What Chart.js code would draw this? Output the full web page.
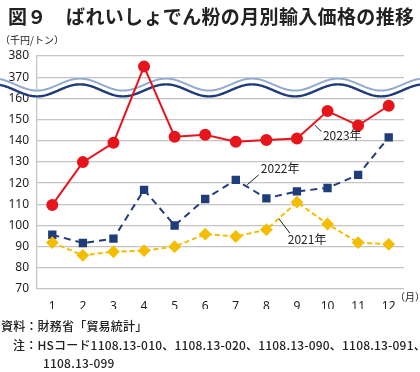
<!DOCTYPE html>
<html>
<head>
<meta charset="utf-8">
<script src="https://cdn.jsdelivr.net/npm/chart.js@4"></script>
<style>
  body { margin: 0; background: #fff; }
  #wrap { position: relative; width: 420px; height: 372px; overflow: hidden; }
  #c { position: absolute; left: 0; top: 0; }
  .t { position: absolute; font-family: "Noto Sans CJK JP", sans-serif; color: #222; white-space: nowrap; }
  #title { left: 8px; top: 2px; font-size: 19px; font-weight: 700; letter-spacing: 0.35px; }
  #unit { left: 0px; top: 32px; font-size: 10px; }
  #month { left: 395px; top: 289px; font-size: 10px; }
  .f { font-size: 12px; font-weight: 500; letter-spacing: 0.2px; }
</style>
</head>
<body>
<div id="wrap">
  <canvas id="c" width="420" height="372"></canvas>
  <div class="t" id="title">図９　ばれいしょでん粉の月別輸入価格の推移</div>
  <div class="t" id="unit">（千円/トン）</div>
  <div class="t" id="month">（月）</div>
  <div class="t f" style="left:1px; top:317px;">資料：財務省「貿易統計」</div>
  <div class="t f" style="left:13px; top:336px;">注：HSコード1108.13-010、1108.13-020、1108.13-090、1108.13-091、</div>
  <div class="t f" style="left:43px; top:354px;">1108.13-099</div>
</div>
<script>
// 月
const months = ['1', '2', '3', '4', '5', '6', '7', '8', '9', '10', '11', '12'];
// 輸入価格（千円/トン）
const y2021 = [91.9, 85.9, 87.6, 88.1, 90.0, 95.9, 94.8, 98.0, 111.0, 100.7, 91.9, 91.1];
const y2022 = [95.6, 91.7, 93.8, 116.8, 100.0, 112.5, 121.5, 112.8, 116.1, 117.7, 123.9, 141.6];
const y2023 = [109.7, 129.9, 139.0, 375.0, 141.9, 142.8, 139.5, 140.3, 141.1, 154.0, 147.2, 156.5];
const yTicks = [70, 80, 90, 100, 110, 120, 130, 140, 150, 160, 370, 380];

// 軸を省略しているので 300 以上は 200 ずらして描く
const toAxis = v => (v > 300 ? v - 200 : v);
const fromAxis = v => (v >= 170 ? v + 200 : v);

const waveBreak = {
    id: 'waveBreak',
    beforeDatasetsDraw(chart) {
        const ctx = chart.ctx;
        const yb = chart.scales.y.getPixelForValue(165);
        const P = 86, A = 6;
        const wave = (off) => {
            ctx.beginPath();
            for (let x = 0; x <= chart.width; x += 1) {
                const y = yb + off - A * Math.cos(2 * Math.PI * (x - 80) / P);
                if (x === 0) ctx.moveTo(x, y); else ctx.lineTo(x, y);
            }
        };
        ctx.save();
        wave(-0.3);
        ctx.strokeStyle = '#ffffff';
        ctx.lineWidth = 8;
        ctx.stroke();
        wave(-3.2);
        ctx.strokeStyle = '#93aad0';
        ctx.lineWidth = 2;
        ctx.stroke();
        wave(2.6);
        ctx.strokeStyle = '#1f3b7a';
        ctx.lineWidth = 2.4;
        ctx.stroke();
        ctx.restore();
    }
};

// 系列名と引き出し線
const seriesLabels = {
    id: 'seriesLabels',
    afterDatasetsDraw(chart) {
        const ctx = chart.ctx;
        const xs = chart.scales.x, ys = chart.scales.y;
        const px = i => xs.getPixelForValue(i);
        const items = [
            { text: '2023年', tx: 8.85, ty: 142.7, x1: 8.58, y1: 147.4, x2: 8.8, y2: 144.3 },
            { text: '2022年', tx: 6.82, ty: 126.8, x1: 6.75, y1: 123.9, x2: 6.37, y2: 119.2 },
            { text: '2021年', tx: 7.7, ty: 93.6, x1: 7.41, y1: 103.2, x2: 7.77, y2: 96.3 }
        ];
        ctx.save();
        ctx.fillStyle = '#222';
        ctx.strokeStyle = '#222';
        ctx.lineWidth = 1;
        ctx.font = '12px "Noto Sans CJK JP"';
        ctx.textBaseline = 'middle';
        items.forEach(it => {
            ctx.beginPath();
            ctx.moveTo(px(it.x1), ys.getPixelForValue(it.y1));
            ctx.lineTo(px(it.x2), ys.getPixelForValue(it.y2));
            ctx.stroke();
            ctx.fillText(it.text, px(it.tx), ys.getPixelForValue(it.ty));
        });
        ctx.restore();
    }
};

new Chart(document.getElementById('c'), {
    type: 'line',
    data: {
        labels: months,
        datasets: [
            {
                label: '2021年',
                data: y2021.map(toAxis),
                borderColor: '#f5bd00',
                backgroundColor: '#f5bd00',
                borderWidth: 2,
                borderDash: [5, 3],
                pointStyle: 'rectRot',
                pointRadius: 5,
                tension: 0
            },
            {
                label: '2022年',
                data: y2022.map(toAxis),
                borderColor: '#1f3d7a',
                backgroundColor: '#1f3d7a',
                borderWidth: 2,
                borderDash: [7, 5],
                pointStyle: 'rect',
                pointRadius: 4.5,
                tension: 0
            },
            {
                label: '2023年',
                data: y2023.map(toAxis),
                borderColor: '#e8141c',
                backgroundColor: '#e8141c',
                borderWidth: 2,
                pointStyle: 'circle',
                pointRadius: 5,
                tension: 0
            }
        ]
    },
    options: {
        responsive: false,
        animation: false,
        layout: { padding: { top: 56, left: 0, right: 16, bottom: 63 } },
        plugins: { legend: { display: false }, tooltip: { enabled: false } },
        scales: {
            x: {
                offset: true,
                grid: { display: false },
                border: { display: false },
                ticks: { color: '#222', font: { size: 12, family: 'Noto Sans' }, padding: 2 },
                afterFit(s) { s.height = 20; }
            },
            y: {
                min: 70,
                max: 180,
                afterBuildTicks(s) { s.ticks = yTicks.map(v => ({ value: toAxis(v) })); },
                grid: { color: '#c4c4c4', lineWidth: 1.3, drawTicks: false },
                border: { display: true, color: '#c4c4c4', width: 1.3 },
                ticks: {
                    color: '#222',
                    font: { size: 12, family: 'Noto Sans' },
                    padding: 8,
                    callback: v => fromAxis(v)
                },
                afterFit(s) { s.width = 37; }
            }
        }
    },
    plugins: [waveBreak, seriesLabels]
});
</script>
</body>
</html>
